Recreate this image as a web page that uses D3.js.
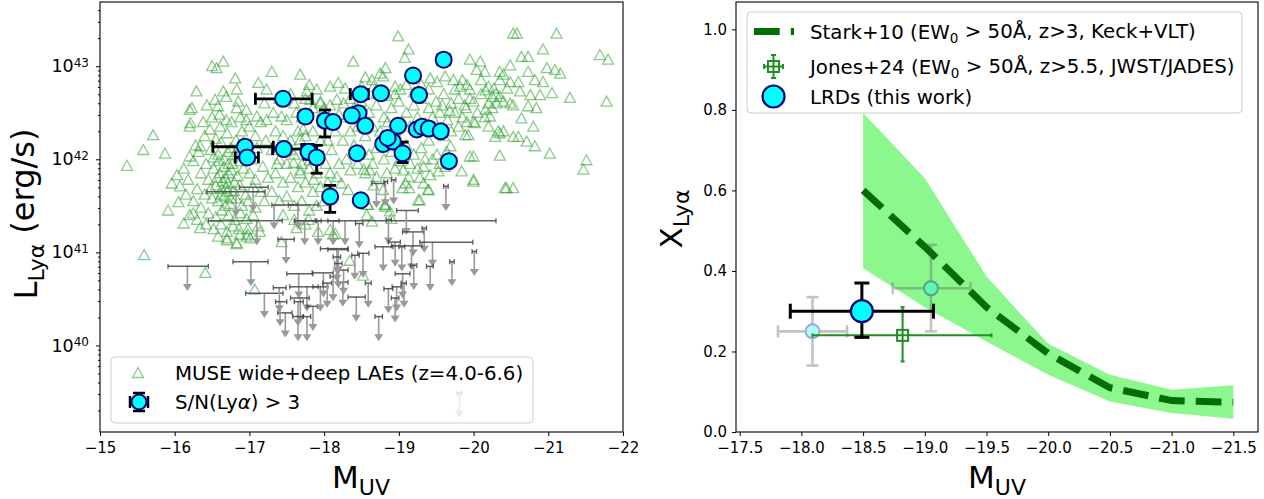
<!DOCTYPE html>
<html lang="en">
<head>
<meta charset="UTF-8" />
<title>LRD Lya</title>
<script src="https://d3js.org/d3.v7.min.js"></script>
<style>
  body { margin: 0; background: #fff; }
  text { font-family: "DejaVu Sans", sans-serif; fill: #000; }
</style>
</head>
<body>
<div id="graph"></div>
<script>
// ---------- left panel data: [M_UV, log L_Lya] ----------
const museLAEs = [
  [-15.36,41.93],[-15.58,42.10],[-15.71,42.26],[-15.87,42.06],[-15.59,40.97],[-16.41,40.78],[-17.07,40.60],
  [-16.65,43.05],[-16.50,43.00],[-16.56,42.98],[-16.81,42.87],[-16.29,42.73],[-16.65,42.73],[-16.83,42.75],[-16.69,42.67],
  [-16.54,42.64],[-16.43,42.58],[-16.58,42.57],[-16.20,42.53],[-16.23,42.55],[-16.85,42.62],[-16.96,42.53],[-16.83,42.55],
  [-16.20,42.35],[-16.21,42.39],[-16.47,42.32],[-16.61,42.35],[-16.69,42.42],[-16.96,42.42],[-16.34,42.14],[-16.32,42.08],
  [-16.20,42.03],[-16.03,41.83],[-15.96,41.74],[-16.07,41.71],[-16.05,41.54],[-15.91,41.45],
  [-16.40,42.25],[-16.55,42.22],[-16.62,42.18],[-16.70,42.28],[-16.75,42.12],[-16.82,42.20],[-16.90,42.30],[-16.48,42.10],
  [-16.58,42.05],[-16.66,42.00],[-16.72,41.95],[-16.80,42.05],[-16.88,41.98],[-16.95,42.08],[-17.02,42.00],[-17.10,42.12],
  [-16.42,41.95],[-16.52,41.90],[-16.60,41.85],[-16.68,41.80],[-16.76,41.88],[-16.84,41.82],[-16.92,41.90],[-17.00,41.85],
  [-17.08,41.78],[-16.35,41.85],[-16.45,41.78],[-16.55,41.72],[-16.63,41.68],[-16.71,41.74],[-16.79,41.66],[-16.87,41.72],
  [-16.95,41.62],[-17.05,41.70],[-17.15,41.65],[-16.30,41.68],[-16.40,41.62],[-16.50,41.58],[-16.58,41.55],[-16.66,41.60],
  [-16.74,41.52],[-16.82,41.58],[-16.90,41.50],[-16.98,41.55],[-17.08,41.48],[-16.25,41.55],[-16.35,41.48],[-16.45,41.42],
  [-16.55,41.38],[-16.63,41.45],[-16.72,41.40],[-16.80,41.35],[-16.88,41.42],[-16.96,41.36],[-17.05,41.40],[-16.30,41.35],
  [-16.42,41.30],[-16.52,41.25],[-16.62,41.30],[-16.70,41.22],[-16.78,41.28],[-16.86,41.25],[-16.20,41.40],[-16.15,41.62],
  [-16.18,41.78],[-16.12,41.90],[-16.25,41.98],[-16.28,42.15],[-16.38,42.40],[-16.50,42.45],[-16.60,42.48],[-16.76,42.40],
  [-16.88,42.45],[-17.00,42.35],[-17.08,42.25],[-17.15,42.40],[-16.66,41.92],[-16.71,42.08],[-16.59,41.98],[-16.77,41.95],
  [-16.64,41.76],[-16.70,41.65],[-16.62,41.62],[-16.68,41.50],[-16.75,41.58],[-16.72,41.85],[-16.80,41.75],[-16.69,41.70],
  [-16.57,41.80],[-16.52,42.02],[-16.48,41.68],[-16.85,42.12],[-16.92,42.18],[-17.18,41.92],[-17.20,41.55],[-17.25,41.80],
  [-17.12,41.28],[-16.98,41.25],[-16.12,41.31],[-16.34,41.26],[-16.25,41.42],[-16.83,41.10],[-16.70,41.15],[-16.58,41.17],
  [-16.96,41.17],[-17.01,41.15],[-16.87,41.19],[-16.98,41.19],[-17.14,41.22],[-17.43,41.11],[-17.63,41.26],[-17.79,41.35],
  [-17.92,41.22],[-18.08,41.24],[-18.12,41.19],[-16.83,41.09],[-16.70,41.13],
  [-17.30,42.94],[-17.12,42.82],[-17.23,42.75],[-17.10,42.46],[-17.23,42.42],[-17.32,42.50],[-17.43,42.46],[-17.50,42.42],
  [-17.63,42.50],[-17.68,42.91],[-17.40,42.65],[-17.55,42.70],[-17.20,42.60],[-17.35,42.30],[-17.45,42.25],[-17.55,42.20],
  [-17.65,42.30],[-17.75,42.25],[-17.85,42.30],[-17.95,42.20],[-17.30,42.10],[-17.40,42.00],[-17.50,41.95],[-17.60,42.05],
  [-17.70,41.95],[-17.80,41.90],[-17.90,41.85],[-17.35,41.85],[-17.45,41.75],[-17.55,41.80],[-17.65,41.70],[-17.75,41.75],
  [-17.85,41.65],[-17.95,41.70],[-17.30,41.65],[-17.40,41.55],[-17.50,41.60],[-17.60,41.50],[-17.70,41.55],[-17.80,41.45],
  [-17.90,41.50],[-17.45,41.40],[-17.60,41.35],[-17.75,41.30],[-17.85,42.55],[-17.95,42.60],[-17.75,42.65],[-17.80,42.80],
  [-17.90,42.75],[-18.00,42.55],[-17.70,42.45],[-17.60,42.60],[-18.00,42.40],[-18.05,42.20],[-18.02,41.95],[-18.05,41.75],
  [-18.00,41.55],[-17.37,41.95],[-17.55,42.10],[-17.22,42.20],[-17.68,41.85],
  [-18.08,42.78],[-18.19,42.82],[-18.28,42.76],[-18.17,42.64],[-18.26,42.60],[-18.08,42.58],[-17.95,42.62],[-17.81,42.64],
  [-17.77,42.73],[-17.72,42.32],[-17.68,42.21],[-18.39,43.05],[-18.82,42.98],[-18.75,42.92],[-18.79,42.89],[-18.64,42.85],
  [-18.66,42.78],[-18.95,42.78],[-19.02,42.75],[-19.42,42.87],[-19.51,42.83],[-19.62,42.89],[-19.73,42.85],[-19.82,42.78],
  [-19.91,42.80],[-19.69,42.14],[-19.64,42.08],[-19.51,42.05],[-20.00,42.03],[-19.84,41.87],[-20.00,41.76],[-19.33,41.92],
  [-19.42,41.83],[-19.28,41.80],[-19.06,41.88],[-19.13,41.81],[-19.09,41.74],[-18.61,41.88],[-18.70,41.81],[-18.84,41.85],
  [-18.66,41.72],[-18.79,41.67],[-19.39,41.67],[-18.23,41.74],[-18.32,41.67],[-18.17,41.81],[-18.08,41.85],[-18.59,41.51],
  [-18.82,41.49],[-18.88,41.44],[-19.26,41.56],[-17.59,41.96],[-17.68,41.88],[-17.81,41.99],[-17.86,41.78],
  [-18.99,43.32],[-19.13,43.18],[-19.08,43.09],[-19.95,43.07],[-20.09,43.05],[-20.04,42.96],[-20.15,42.94],
  [-18.30,42.45],[-18.40,42.55],[-18.50,42.62],[-18.60,42.50],[-18.70,42.58],[-18.80,42.45],[-18.90,42.55],[-19.00,42.62],
  [-19.10,42.50],[-19.20,42.58],[-19.30,42.65],[-19.40,42.55],[-19.50,42.62],[-19.60,42.70],[-19.70,42.60],[-19.80,42.65],
  [-19.90,42.55],[-20.00,42.62],[-20.10,42.70],[-20.20,42.60],[-18.35,42.30],[-18.45,42.35],[-18.55,42.25],[-18.65,42.35],
  [-18.75,42.30],[-18.85,42.40],[-18.95,42.30],[-19.05,42.40],[-19.15,42.35],[-19.25,42.45],[-19.35,42.38],[-19.45,42.45],
  [-19.55,42.50],[-19.65,42.42],[-19.75,42.50],[-19.85,42.45],[-19.95,42.65],[-20.05,42.50],[-20.15,42.45],[-20.25,42.55],
  [-18.40,42.15],[-18.50,42.10],[-18.60,42.05],[-18.70,42.12],[-18.80,42.00],[-18.90,42.08],[-19.00,41.98],[-19.10,42.15],
  [-19.20,42.05],[-19.30,42.12],[-19.40,42.20],[-19.45,42.00],[-18.30,42.00],[-18.25,42.20],[-18.20,41.95],[-18.35,41.88],
  [-18.45,41.95],[-18.55,41.85],[-18.65,41.95],[-18.95,41.90],[-19.15,41.95],[-19.25,41.90],[-19.35,42.00],[-19.55,41.95],
  [-19.60,42.25],[-19.70,42.30],[-19.80,42.35],[-19.50,42.30],[-19.40,42.75],[-19.30,42.80],[-19.20,42.72],[-19.10,42.80],
  [-18.95,42.70],[-18.85,42.68],[-18.50,42.78],[-18.45,42.70],[-18.55,42.88],[-18.70,42.70],[-18.35,42.65],[-18.20,42.48],
  [-18.15,42.30],[-18.10,42.10],[-19.75,42.75],[-19.85,42.85],[-19.95,42.75],[-20.10,42.85],[-20.20,42.78],[-20.30,42.70],
  [-20.35,42.85],[-20.40,42.62],[-19.58,42.58],[-19.68,42.52],[-19.88,42.58],[-20.00,42.40],
  [-20.53,43.35],[-20.58,43.35],[-21.11,43.35],[-20.93,43.18],[-21.69,43.12],[-21.80,43.07],[-20.64,43.10],[-20.73,43.10],
  [-20.49,43.01],[-20.35,42.94],[-20.40,42.91],[-20.98,42.98],[-21.09,42.96],[-21.16,42.92],[-20.73,42.94],[-20.82,42.85],
  [-20.93,42.83],[-20.49,42.83],[-20.60,42.83],[-20.45,42.76],[-20.27,42.76],[-20.16,42.74],[-20.25,42.67],[-20.62,42.73],
  [-20.76,42.69],[-20.89,42.69],[-21.05,42.71],[-21.29,42.66],[-21.78,42.62],[-20.49,42.60],[-20.53,42.58],[-20.73,42.57],
  [-20.84,42.55],[-20.35,42.67],[-20.31,42.60],[-20.16,42.53],[-20.22,42.46],[-20.64,42.44],[-20.80,42.35],[-19.91,42.40],
  [-20.02,42.39],[-20.40,42.30],[-20.35,42.28],[-20.53,42.24],[-20.60,42.24],[-20.71,42.19],[-20.82,42.14],[-20.33,42.30],
  [-20.29,42.24],[-20.20,42.35],[-19.89,42.26],[-19.93,42.26],[-21.02,42.06],[-21.51,41.99],[-21.47,41.89],[-20.44,41.69],
  [-20.53,41.69],[-20.00,41.78],[-19.62,41.92],[-19.53,41.87],[-19.95,42.03],[-20.35,42.04],[-19.40,41.67],[-19.28,41.56],
  [-19.14,41.69],[-19.05,41.69],[-18.81,41.51],[-18.53,41.89],[-18.58,41.51],[-18.90,41.36],[-18.64,41.33],[-18.57,41.40],
  [-18.15,41.20],[-18.34,40.91],[-18.52,40.75],[-18.82,41.51],[-19.33,41.74],[-20.42,41.69]
]

// upper limits: [M_UV, M bright end, M faint end, log L limit]
const limitM = [-16.17,-17.02,-17.20,-17.40,-17.66,-17.99,-17.77,-17.49,-17.10,-18.28,-17.33,-17.65,-17.05,-16.82,
  -18.17,-18.25,-17.68,-17.85,-17.65,-17.48,-17.95,-18.04,-19.63,-19.10,-18.86,-19.19,-19.34,-18.95,-19.17,-19.45,
  -18.79,-19.04,-19.20,-19.42,-19.71,-20.01,-19.05,-18.86,-18.97,-19.07,-18.59,-18.43,-18.95,-18.26,-18.41,-18.19,
  -18.52,-18.73,-18.12,-18.47,-18.93,-18.70,-18.82,-17.74,-17.92,-18.12,-18.17,-18.19,-17.65,-17.77,-17.41,-19.81]
const limitLo = [-15.91,-16.78,-16.95,-17.32,-17.50,-17.84,-17.54,-17.38,-16.45,-17.61,-17.30,-17.52,-16.87,-16.43,
  -18.05,-18.18,-17.55,-17.77,-17.60,-17.38,-17.85,-17.98,-19.60,-18.97,-18.83,-19.05,-19.31,-18.86,-18.90,-19.28,
  -18.68,-19.00,-19.16,-19.37,-19.68,-19.98,-18.95,-18.80,-18.91,-19.03,-18.55,-18.32,-18.90,-18.20,-18.37,-17.95,
  -18.45,-18.68,-18.08,-18.42,-18.90,-18.64,-18.80,-17.60,-17.88,-18.05,-18.12,-18.14,-17.58,-17.72,-17.35,-19.78]
const limitHi = [-16.45,-17.25,-17.45,-17.49,-17.85,-18.12,-17.92,-17.60,-17.44,-20.30,-17.65,-17.92,-17.25,-17.21,
  -18.32,-18.32,-17.80,-17.91,-17.72,-17.57,-18.05,-18.10,-19.66,-19.26,-18.90,-19.33,-19.37,-19.02,-19.31,-19.99,
  -18.92,-19.08,-19.24,-19.46,-19.74,-20.04,-19.15,-18.92,-19.03,-19.10,-18.63,-18.55,-19.00,-18.32,-18.47,-18.32,
  -18.60,-18.78,-18.16,-18.52,-18.96,-18.81,-18.85,-17.90,-17.96,-18.20,-18.22,-18.24,-17.72,-17.82,-17.50,-19.84]
const limitL = [40.85,40.90,40.56,40.62,40.77,40.78,40.63,41.14,41.34,41.34,41.51,41.51,41.70,41.65,
  41.03,40.68,40.51,40.42,40.47,40.35,40.63,40.67,41.71,41.45,41.35,41.22,41.26,41.11,41.07,41.11,
  41.06,41.06,40.86,40.85,40.90,41.01,40.77,40.61,40.63,40.67,40.67,40.52,40.51,40.81,40.97,41.04,
  40.99,40.31,40.74,41.31,41.78,41.74,41.76,41.34,41.34,41.34,40.95,40.88,40.31,40.31,40.47,39.49]

// LRD detections (S/N > 3): M_UV, log L, and errors (M bright/faint side, log L down/up)
const lrdM = [-17.45,-17.75,-18.01,-18.12,-16.94,-16.97,-17.46,-17.79,-17.90,-18.08,-18.49,-18.44,-18.46,-18.37,-18.55,
  -18.49,-18.76,-19.19,-19.60,-19.27,-18.99,-18.79,-18.92,-18.85,-19.05,-19.24,-19.31,-19.40,-19.56,-19.67]
const lrdL = [42.65,42.46,42.415,42.40,42.135,42.02,42.11,42.08,42.02,41.60,41.56,42.065,42.495,42.47,42.36,
  42.70,42.71,42.90,43.07,42.69,42.36,42.165,42.19,42.23,42.065,42.32,42.35,42.33,42.30,41.98]
const lrdMerrLo = [0.37,0.05,0.08,0.05,0.43,0.16,0.15,0.06,0.08,0.05,0,0,0.06,0.06,0.04,0.14,0.04,0,0.08,0,0,0.05,0,0,0.05,0,0,0,0,0]
const lrdMerrHi = [0.39,0.05,0.08,0.05,0.38,0.15,0.24,0.06,0.08,0.05,0,0,0.06,0.06,0.04,0.10,0.04,0,0.08,0,0,0.05,0,0,0.05,0,0,0,0,0]
const lrdLerrLo = [0.04,0.06,0.175,0.05,0.06,0.05,0.06,0.08,0.17,0.17,0,0.05,0.06,0.06,0.06,0.04,0.04,0,0.03,0,0,0.04,0,0,0.10,0,0,0,0.05,0]
const lrdLerrHi = [0.04,0.06,0.115,0.05,0.06,0.05,0.06,0.08,0.13,0.12,0,0.05,0.06,0.06,0.06,0.04,0.04,0,0.03,0,0,0.04,0,0,0.12,0,0,0,0.05,0]

// ---------- right panel data ----------
const starkM = [-18.5,-19.0,-19.5,-20.0,-20.5,-21.0,-21.5]
const starkX = [0.60,0.46,0.31,0.195,0.11,0.078,0.074]
const starkLo = [0.407,0.31,0.225,0.142,0.076,0.047,0.033]
const starkHi = [0.792,0.63,0.386,0.219,0.142,0.105,0.116]

const jonesM = -18.82, jonesMlo = -18.09, jonesMhi = -19.54
const jonesX = 0.24, jonesXlo = 0.175, jonesXhi = 0.31

// faint binned points: M, Mlo, Mhi, X, Xlo, Xhi
const binM = [-18.09,-19.05], binMlo = [-17.81,-18.74], binMhi = [-18.37,-19.37]
const binX = [0.25,0.357], binXlo = [0.165,0.25], binXhi = [0.335,0.465]

const lrdTotM = -18.49, lrdTotMlo = -17.91, lrdTotMhi = -19.07
const lrdTotX = 0.30, lrdTotXlo = 0.235, lrdTotXhi = 0.37

// ---------- drawing ----------
const svg = d3.select('#graph').append('svg').attr('width', 1264).attr('height', 499)
const defs = svg.append('defs')

const L = { x0: 100, x1: 623, y0: 2, y1: 432 }
const R = { x0: 736, x1: 1258, y0: 2, y1: 432 }

const xL = d3.scaleLinear().domain([-15, -22]).range([L.x0, L.x1])
const yL = d3.scaleLog().domain([Math.pow(10, 39.07), Math.pow(10, 43.69)]).range([L.y1, L.y0])
const xR = d3.scaleLinear().domain([-17.47, -21.70]).range([R.x0, R.x1])
const yR = d3.scaleLinear().domain([0, 1.068]).range([R.y1, R.y0])
const pL = (v) => yL(Math.pow(10, v))

defs.append('clipPath').attr('id', 'clipL').append('rect')
  .attr('x', L.x0).attr('y', L.y0).attr('width', L.x1 - L.x0).attr('height', L.y1 - L.y0)
defs.append('clipPath').attr('id', 'clipR').append('rect')
  .attr('x', R.x0).attr('y', R.y0).attr('width', R.x1 - R.x0).attr('height', R.y1 - R.y0)

const triPath = 'M0,-5.5L5.5,4.5L-5.5,4.5Z'
const green = '#2ca02c'

// left: MUSE triangles
const gL = svg.append('g').attr('clip-path', 'url(#clipL)')
gL.append('g').selectAll('path').data(museLAEs).join('path')
  .attr('d', triPath)
  .attr('transform', (d) => `translate(${xL(d[0])},${pL(d[1])})`)
  .attr('fill', 'none').attr('stroke', green).attr('stroke-opacity', 0.55).attr('stroke-width', 1.3)

// left: upper limits
const lim = gL.append('g')
limitM.forEach((m, i) => {
  const x = xL(m), y = pL(limitL[i]), ya = pL(limitL[i] - 0.2)
  lim.append('line').attr('x1', x).attr('x2', x).attr('y1', y).attr('y2', ya)
    .attr('stroke', '#999').attr('stroke-width', 1.6)
  lim.append('path').attr('d', `M${x - 4.5},${ya - 1}L${x + 4.5},${ya - 1}L${x},${ya + 6}Z`).attr('fill', '#999')
  const a = xL(limitLo[i]), b = xL(limitHi[i])
  lim.append('line').attr('x1', a).attr('x2', b).attr('y1', y).attr('y2', y)
    .attr('stroke', '#444').attr('stroke-opacity', 0.85).attr('stroke-width', 1.5)
  ;[a, b].forEach((c) => lim.append('line').attr('x1', c).attr('x2', c).attr('y1', y - 2.5).attr('y2', y + 2.5)
    .attr('stroke', '#444').attr('stroke-opacity', 0.85).attr('stroke-width', 1.3))
})

// left: LRD points with error bars
const eb = gL.append('g').attr('stroke', '#000').attr('stroke-width', 2.8)
lrdM.forEach((m, i) => {
  const x = xL(m), y = pL(lrdL[i])
  if (lrdMerrLo[i] + lrdMerrHi[i] > 0) {
    const a = xL(m + lrdMerrLo[i]), b = xL(m - lrdMerrHi[i])
    eb.append('line').attr('x1', a).attr('x2', b).attr('y1', y).attr('y2', y)
    ;[a, b].forEach((c) => eb.append('line').attr('x1', c).attr('x2', c).attr('y1', y - 6).attr('y2', y + 6))
  }
  if (lrdLerrLo[i] + lrdLerrHi[i] > 0) {
    const a = pL(lrdL[i] - lrdLerrLo[i]), b = pL(lrdL[i] + lrdLerrHi[i])
    eb.append('line').attr('x1', x).attr('x2', x).attr('y1', a).attr('y2', b)
    ;[a, b].forEach((c) => eb.append('line').attr('x1', x - 6).attr('x2', x + 6).attr('y1', c).attr('y2', c))
  }
})
gL.append('g').selectAll('circle').data(lrdM).join('circle')
  .attr('cx', (d) => xL(d)).attr('cy', (d, i) => pL(lrdL[i])).attr('r', 8)
  .attr('fill', 'cyan').attr('stroke', 'navy').attr('stroke-width', 2)

// left axes
const fmtMinus = (d) => (d < 0 ? '\u2212' + Math.abs(d) : '' + d)
svg.append('g').attr('transform', `translate(0,${L.y1})`)
  .call(d3.axisBottom(xL).tickValues([-15, -16, -17, -18, -19, -20, -21, -22]).tickFormat(fmtMinus).tickSizeOuter(0).tickSize(4).tickPadding(6))
const logMajor = [1e40, 1e41, 1e42, 1e43]
const logMinor = []
for (let e = 39; e <= 43; e++) for (let k = 2; k <= 9; k++) {
  const v = k * Math.pow(10, e)
  if (v > yL.domain()[0] && v < yL.domain()[1]) logMinor.push(v)
}
svg.append('g').attr('transform', `translate(${L.x0},0)`)
  .call(d3.axisLeft(yL).tickValues(logMinor).tickFormat('').tickSize(2).tickSizeOuter(0))
const ayL = svg.append('g').attr('class', 'logax').attr('transform', `translate(${L.x0},0)`)
  .call(d3.axisLeft(yL).tickValues(logMajor).tickSize(4).tickPadding(7).tickSizeOuter(0))

// right panel
const gR = svg.append('g').attr('clip-path', 'url(#clipR)')
gR.append('path').datum(starkM)
  .attr('d', d3.area().x((d) => xR(d)).y0((d, i) => yR(starkLo[i])).y1((d, i) => yR(starkHi[i])))
  .attr('fill', '#8cf78c').attr('stroke', 'none')
gR.append('path').datum(starkM)
  .attr('d', d3.line().x((d) => xR(d)).y((d, i) => yR(starkX[i])))
  .attr('fill', 'none').attr('stroke', '#006e00').attr('stroke-width', 7).attr('stroke-dasharray', '25.7 11.1')

// faint binned points
binM.forEach((m, i) => {
  const g = gR.append('g').attr('opacity', 0.35)
  const x = xR(m), y = yR(binX[i])
  const s = { stroke: '#555', w: 2.6 }
  g.append('line').attr('x1', xR(binMlo[i])).attr('x2', xR(binMhi[i])).attr('y1', y).attr('y2', y).attr('stroke', s.stroke).attr('stroke-width', s.w)
  g.append('line').attr('x1', x).attr('x2', x).attr('y1', yR(binXlo[i])).attr('y2', yR(binXhi[i])).attr('stroke', s.stroke).attr('stroke-width', s.w)
  ;[xR(binMlo[i]), xR(binMhi[i])].forEach((c) => g.append('line').attr('x1', c).attr('x2', c).attr('y1', y - 6).attr('y2', y + 6).attr('stroke', s.stroke).attr('stroke-width', s.w))
  ;[yR(binXlo[i]), yR(binXhi[i])].forEach((c) => g.append('line').attr('x1', x - 6).attr('x2', x + 6).attr('y1', c).attr('y2', c).attr('stroke', s.stroke).attr('stroke-width', s.w))
  g.append('circle').attr('cx', x).attr('cy', y).attr('r', 7).attr('fill', 'cyan').attr('stroke', 'navy').attr('stroke-width', 2)
})

// Jones+24
const jg = gR.append('g').attr('stroke', '#1f8f1f').attr('stroke-width', 2)
{
  const x = xR(jonesM), y = yR(jonesX)
  jg.append('line').attr('x1', xR(jonesMlo)).attr('x2', xR(jonesMhi)).attr('y1', y).attr('y2', y)
  jg.append('line').attr('x1', x).attr('x2', x).attr('y1', yR(jonesXlo)).attr('y2', yR(jonesXhi))
  ;[xR(jonesMlo), xR(jonesMhi)].forEach((c) => jg.append('line').attr('x1', c).attr('x2', c).attr('y1', y - 2).attr('y2', y + 2))
  ;[yR(jonesXlo), yR(jonesXhi)].forEach((c) => jg.append('line').attr('x1', x - 2).attr('x2', x + 2).attr('y1', c).attr('y2', c))
  jg.append('rect').attr('x', x - 5.5).attr('y', y - 5.5).attr('width', 11).attr('height', 11).attr('fill', 'none')
}

// LRD total
const tg = gR.append('g').attr('stroke', '#000').attr('stroke-width', 3)
{
  const x = xR(lrdTotM), y = yR(lrdTotX)
  tg.append('line').attr('x1', xR(lrdTotMlo)).attr('x2', xR(lrdTotMhi)).attr('y1', y).attr('y2', y)
  tg.append('line').attr('x1', x).attr('x2', x).attr('y1', yR(lrdTotXlo)).attr('y2', yR(lrdTotXhi))
  ;[xR(lrdTotMlo), xR(lrdTotMhi)].forEach((c) => tg.append('line').attr('x1', c).attr('x2', c).attr('y1', y - 7.5).attr('y2', y + 7.5))
  ;[yR(lrdTotXlo), yR(lrdTotXhi)].forEach((c) => tg.append('line').attr('x1', x - 7.5).attr('x2', x + 7.5).attr('y1', c).attr('y2', c))
  gR.append('circle').attr('cx', x).attr('cy', y).attr('r', 11).attr('fill', 'cyan').attr('stroke', 'navy').attr('stroke-width', 2.2)
}

// right axes
svg.append('g').attr('transform', `translate(0,${R.y1})`)
  .call(d3.axisBottom(xR).tickValues([-17.5, -18, -18.5, -19, -19.5, -20, -20.5, -21, -21.5])
    .tickFormat((d) => '\u2212' + Math.abs(d).toFixed(1)).tickSize(4).tickPadding(6).tickSizeOuter(0))
svg.append('g').attr('transform', `translate(${R.x0},0)`)
  .call(d3.axisLeft(yR).tickValues([0, 0.2, 0.4, 0.6, 0.8, 1.0]).tickFormat(d3.format('.1f')).tickSize(4).tickPadding(5).tickSizeOuter(0))

svg.selectAll('.tick text').attr('font-size', '15px').attr('font-family', '"DejaVu Sans", sans-serif').attr('fill', '#000')
svg.selectAll('.domain').remove()
svg.selectAll('.tick line').attr('stroke', '#000').attr('stroke-width', 1)

// log tick labels as 10^n
ayL.selectAll('text').text(null).attr('font-size', '17.5px').each(function (d) {
  const t = d3.select(this)
  t.append('tspan').text('10')
  t.append('tspan').attr('dy', '-0.45em').attr('font-size', '12px').text(Math.round(Math.log10(d)))
})

// frames
;[L, R].forEach((p) => svg.append('rect').attr('x', p.x0).attr('y', p.y0).attr('width', p.x1 - p.x0).attr('height', p.y1 - p.y0)
  .attr('fill', 'none').attr('stroke', '#000').attr('stroke-width', 1.1))

// axis labels
function subLabel(x, y, main, sub, rot) {
  const t = svg.append('text').attr('font-size', '31px')
    .attr('transform', `translate(${x},${y})` + (rot ? ' rotate(-90)' : '')).attr('text-anchor', 'middle')
  t.append('tspan').text(main)
  t.append('tspan').attr('font-size', '22px').attr('dy', '0.3em').text(sub)
  return t
}
subLabel(361, 488, 'M', 'UV', false)
subLabel(997, 488, 'M', 'UV', false)
{
  const t = svg.append('text').attr('font-size', '32px').attr('transform', 'translate(37,214) rotate(-90)').attr('text-anchor', 'middle')
  t.append('tspan').text('L')
  t.append('tspan').attr('font-size', '22px').attr('dy', '0.3em').text('Ly\u03b1')
  t.append('tspan').attr('dy', '-0.3em').text(' (erg/s)')
}
subLabel(682, 219, 'X', 'Ly\u03b1', true)

// left legend
const fs = '19.8px'
const lg = svg.append('g')
lg.append('rect').attr('x', 111).attr('y', 357).attr('width', 422).attr('height', 66).attr('rx', 4)
  .attr('fill', '#fff').attr('fill-opacity', 0.8).attr('stroke', '#ccc').attr('stroke-width', 1)
lg.append('path').attr('d', triPath).attr('transform', 'translate(138,373)')
  .attr('fill', 'none').attr('stroke', green).attr('stroke-opacity', 0.55).attr('stroke-width', 1.3)
lg.append('text').attr('x', 175).attr('y', 373).attr('dy', '0.36em').attr('font-size', fs).text('MUSE wide+deep LAEs (z=4.0-6.6)')
{
  const g = lg.append('g').attr('stroke', '#000').attr('stroke-width', 2.5)
  g.append('line').attr('x1', 130).attr('x2', 148).attr('y1', 402).attr('y2', 402)
  g.append('line').attr('x1', 139).attr('x2', 139).attr('y1', 393).attr('y2', 411)
  ;[130, 148].forEach((c) => g.append('line').attr('x1', c).attr('x2', c).attr('y1', 396).attr('y2', 408))
  ;[393, 411].forEach((c) => g.append('line').attr('x1', 133).attr('x2', 145).attr('y1', c).attr('y2', c))
  lg.append('circle').attr('cx', 139).attr('cy', 402).attr('r', 7.5).attr('fill', 'cyan').attr('stroke', 'navy').attr('stroke-width', 2)
  const t = lg.append('text').attr('x', 175).attr('y', 402).attr('dy', '0.36em').attr('font-size', fs)
  t.append('tspan').text('S/N(Ly')
  t.append('tspan').attr('font-style', 'italic').text('\u03b1')
  t.append('tspan').text(') > 3')
}

// right legend
const rg = svg.append('g')
rg.append('rect').attr('x', 747).attr('y', 12).attr('width', 495).attr('height', 101).attr('rx', 4)
  .attr('fill', '#fff').attr('fill-opacity', 0.8).attr('stroke', '#ccc').attr('stroke-width', 1)
rg.append('line').attr('x1', 754).attr('x2', 794).attr('y1', 31.5).attr('y2', 31.5)
  .attr('stroke', '#006e00').attr('stroke-width', 7).attr('stroke-dasharray', '25.7 11.1')
function ewText(y, rest) {
  const t = rg.append('text').attr('x', 810).attr('y', y).attr('dy', '0.36em').attr('font-size', fs)
  t.append('tspan').text(rest[0] + ' (EW')
  t.append('tspan').attr('font-size', '13.5px').attr('dy', '0.3em').text('0')
  t.append('tspan').attr('dy', '-0.22em').text(' > 50\u00c5, ' + rest[1])
}
ewText(31.5, ['Stark+10', 'z>3, Keck+VLT)'])
{
  const g = rg.append('g').attr('stroke', '#1f8f1f').attr('stroke-width', 2)
  g.append('line').attr('x1', 764).attr('x2', 783).attr('y1', 66.5).attr('y2', 66.5)
  g.append('line').attr('x1', 773.5).attr('x2', 773.5).attr('y1', 55).attr('y2', 78)
  ;[764, 783].forEach((c) => g.append('line').attr('x1', c).attr('x2', c).attr('y1', 64).attr('y2', 69))
  ;[55, 78].forEach((c) => g.append('line').attr('x1', 771).attr('x2', 776).attr('y1', c).attr('y2', c))
  g.append('rect').attr('x', 768).attr('y', 61).attr('width', 11).attr('height', 11).attr('fill', 'none')
}
ewText(66.5, ['Jones+24', 'z>5.5, JWST/JADES)'])
rg.append('circle').attr('cx', 773.5).attr('cy', 96.5).attr('r', 11).attr('fill', 'cyan').attr('stroke', 'navy').attr('stroke-width', 2.2)
rg.append('text').attr('x', 810).attr('y', 96.5).attr('dy', '0.36em').attr('font-size', fs).text('LRDs (this work)')
</script>
</body>
</html>
